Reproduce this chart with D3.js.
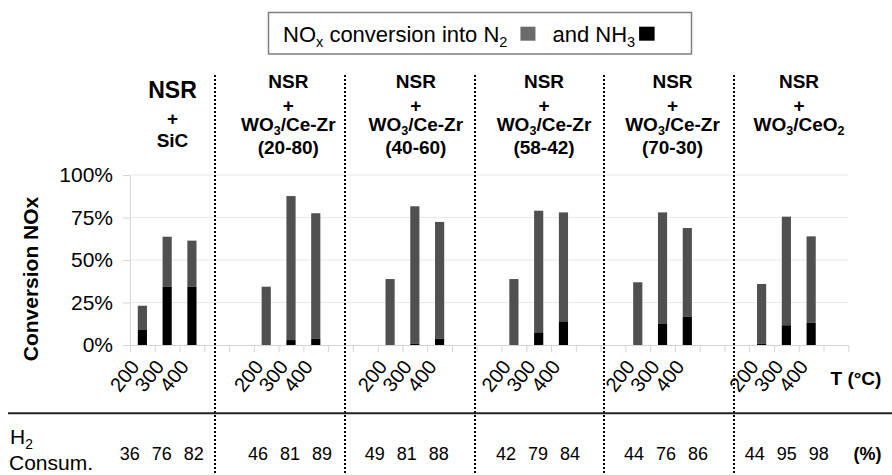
<!DOCTYPE html>
<html>
<head>
<meta charset="utf-8">
<script src="https://cdn.jsdelivr.net/npm/d3@7"></script>
<style>
  body { margin: 0; background: #fff; }
  svg { display: block; font-family: "Liberation Sans", Arial, sans-serif; }
</style>
</head>
<body>
<svg id="chart" width="892" height="475"></svg>
<script>
// ---- Data -----------------------------------------------------------------
// Catalyst configurations (header lines, "_x" marks a subscript character)
const groupHeaders = [
  ["NSR", "+", "SiC"],
  ["NSR", "+", "WO_3/Ce-Zr", "(20-80)"],
  ["NSR", "+", "WO_3/Ce-Zr", "(40-60)"],
  ["NSR", "+", "WO_3/Ce-Zr", "(58-42)"],
  ["NSR", "+", "WO_3/Ce-Zr", "(70-30)"],
  ["NSR", "+", "WO_3/CeO_2"]
];
const temperatures = ["200", "300", "400"];

// NOx converted into NH3 (%), per configuration, at 200 / 300 / 400 °C
const nh3 = [
  [8.8, 34.3, 34.3],
  [0.0, 2.9, 3.7],
  [0.0, 0.8, 3.7],
  [0.0, 7.4, 13.9],
  [0.0, 12.4, 16.7],
  [0.8, 11.6, 13.1]
];
// NOx converted into N2 (%)
const n2 = [
  [14.3, 29.4, 27.1],
  [34.3, 84.7, 73.8],
  [38.8, 80.8, 68.7],
  [38.8, 71.6, 64.1],
  [36.9, 65.6, 52.1],
  [35.1, 63.9, 50.8]
];
// H2 consumption (%)
const h2Consumption = [
  [36, 76, 82],
  [46, 81, 89],
  [49, 81, 88],
  [42, 79, 84],
  [44, 76, 86],
  [44, 95, 98]
];
const yTicks = [0, 25, 50, 75, 100];

// ---- Layout ---------------------------------------------------------------
const svg = d3.select("#chart");
const FONT = "\"Liberation Sans\", Arial, sans-serif";
const plot = { left: 130, right: 848.3, top: 175, bottom: 345 };
const separatorsX = [215, 345, 475, 604, 734];
const headerCenters = [172.5, 288.3, 415.8, 544, 672.5, 799];
const h2Centers = [161.7, 290, 406.7, 538, 666, 786.7];
const GREY = "#505050";

// category slots: 3 temperatures per configuration, two empty slots between
const slots = [];
groupHeaders.forEach((_, g) => {
  temperatures.forEach(t => slots.push(`${g}-${t}`));
  if (g < groupHeaders.length - 1) { slots.push(`${g}-gapA`, `${g}-gapB`); }
  else { slots.push(`${g}-end`); }
});

const x = d3.scaleBand()
  .domain(slots)
  .range([plot.left, plot.right])
  .paddingInner(0.63)
  .paddingOuter(0.315);
const slotEdge = d3.scaleLinear().domain([0, slots.length]).range([plot.left, plot.right]);
const y = d3.scaleLinear().domain([0, 100]).range([plot.bottom, plot.top]);

// helper: write a string with "_c" subscripts into a text element of the given size
function richText(sel, str, size, shiftEm = 0.24) {
  sel.attr("font-size", size);
  const shift = size * shiftEm;
  const parts = str.split(/_(.)/);
  let lowered = false;
  parts.forEach((p, i) => {
    if (!p) return;
    const sub = i % 2 === 1;
    const span = sel.append("tspan").text(p);
    if (sub) {
      span.attr("font-size", size * 0.66).attr("dy", lowered ? 0 : shift);
      lowered = true;
    } else {
      if (lowered) span.attr("dy", -shift);
      lowered = false;
    }
  });
  return sel;
}

// ---- Gridlines ------------------------------------------------------------
svg.append("g")
  .selectAll("line")
  .data(yTicks.filter(d => d > 0))
  .join("line")
  .attr("x1", plot.left).attr("x2", plot.right)
  .attr("y1", d => y(d)).attr("y2", d => y(d))
  .attr("stroke", "#e9e9e9").attr("stroke-width", 1);

// ---- Axes -----------------------------------------------------------------
const yAxis = svg.append("g")
  .attr("transform", `translate(${plot.left},0)`)
  .call(d3.axisLeft(y).tickValues(yTicks).tickFormat(d => d + "%").tickSize(7).tickSizeOuter(0).tickPadding(10));
yAxis.select(".domain").attr("stroke", "#d4d4d4");
yAxis.selectAll(".tick line").attr("stroke", "#d4d4d4");
yAxis.selectAll(".tick text").attr("font-size", 21).attr("font-family", FONT).attr("fill", "#000");

const xAxis = svg.append("g")
  .attr("transform", `translate(0,${plot.bottom})`)
  .call(d3.axisBottom(slotEdge).tickValues(d3.range(slots.length + 1)).tickFormat("").tickSize(7).tickSizeOuter(0));
xAxis.select(".domain").attr("stroke", "#d4d4d4");
xAxis.selectAll(".tick line").attr("stroke", "#d4d4d4");

// ---- Stacked bars -----------------------------------------------------------
const barData = [];
groupHeaders.forEach((_, g) => {
  temperatures.forEach((t, i) => {
    barData.push({ key: `${g}-${t}`, t, nh3: nh3[g][i], n2: n2[g][i] });
  });
});

const bars = svg.append("g");
bars.selectAll("rect.n2")
  .data(barData)
  .join("rect")
  .attr("class", "n2")
  .attr("x", d => x(d.key))
  .attr("width", x.bandwidth())
  .attr("y", d => y(d.nh3 + d.n2))
  .attr("height", d => y(d.nh3) - y(d.nh3 + d.n2))
  .attr("fill", GREY);
bars.selectAll("rect.nh3")
  .data(barData.filter(d => d.nh3 > 0))
  .join("rect")
  .attr("class", "nh3")
  .attr("x", d => x(d.key))
  .attr("width", x.bandwidth())
  .attr("y", d => y(d.nh3))
  .attr("height", d => y(0) - y(d.nh3))
  .attr("fill", "#000");

// temperature labels under each bar
svg.append("g")
  .selectAll("text")
  .data(barData)
  .join("text")
  .attr("transform", d => `translate(${x(d.key) + x.bandwidth() / 2 - 2},367) rotate(-52)`)
  .attr("text-anchor", "end")
  .attr("font-size", 20)
  .attr("font-family", FONT)
  .text(d => d.t);

svg.append("text")
  .attr("x", 856).attr("y", 385)
  .attr("text-anchor", "middle")
  .attr("font-size", 19).attr("font-weight", "bold")
  .attr("font-family", FONT)
  .text("T (°C)");

// y-axis title
svg.append("text")
  .attr("transform", "translate(38,279) rotate(-90)")
  .attr("text-anchor", "middle")
  .attr("font-size", 21).attr("font-weight", "bold")
  .attr("font-family", FONT)
  .text("Conversion NOx");

// ---- Group headers ----------------------------------------------------------
groupHeaders.forEach((lines, g) => {
  const first = g === 0;
  const baselines = first ? [98, 125, 147] : [88, 111.5, 131, 154];
  lines.forEach((line, i) => {
    const t = svg.append("text")
      .attr("x", headerCenters[g]).attr("y", baselines[i])
      .attr("text-anchor", "middle")
      .attr("font-weight", "bold")
      .attr("font-family", FONT);
    richText(t, line, first && i === 0 ? 23 : 19, 0.2);
  });
});

// ---- Separators -------------------------------------------------------------
svg.append("g")
  .selectAll("line")
  .data(separatorsX)
  .join("line")
  .attr("x1", d => d).attr("x2", d => d)
  .attr("y1", 75).attr("y2", 475)
  .attr("stroke", "#000").attr("stroke-width", 2).attr("stroke-dasharray", "2,2");

// ---- H2 consumption row -----------------------------------------------------
svg.append("line")
  .attr("x1", 8).attr("x2", 892).attr("y1", 413.3).attr("y2", 413.3)
  .attr("stroke", "#222").attr("stroke-width", 2);

richText(svg.append("text").attr("x", 10).attr("y", 444)
  .attr("font-family", FONT), "H_2", 21);
svg.append("text").attr("x", 9).attr("y", 470)
  .attr("font-size", 21).attr("font-family", FONT).text("Consum.");

h2Consumption.forEach((vals, g) => {
  svg.append("g").selectAll("text")
    .data(vals)
    .join("text")
    .attr("x", (d, i) => h2Centers[g] + (i - 1) * 32)
    .attr("y", 460)
    .attr("text-anchor", "middle")
    .attr("font-size", 18).attr("font-family", FONT)
    .text(d => d);
});
svg.append("text").attr("x", 867.5).attr("y", 460)
  .attr("text-anchor", "middle")
  .attr("font-size", 18).attr("font-weight", "bold").attr("font-family", FONT)
  .text("(%)");

// ---- Legend -----------------------------------------------------------------
const legend = svg.append("g");
legend.append("rect")
  .attr("x", 268.5).attr("y", 12.5).attr("width", 423).attr("height", 41.5)
  .attr("fill", "#fff").attr("stroke", "#7f7f7f").attr("stroke-width", 1.5);
const lt1 = richText(legend.append("text").attr("x", 283).attr("y", 41.7)
  .attr("font-family", FONT), "NO_x conversion into N_2", 22);
const b1 = lt1.node().getBBox();
const sq1x = b1.x + b1.width + 13;
legend.append("rect").attr("x", sq1x).attr("y", 26.7).attr("width", 15).attr("height", 14).attr("fill", "#6b6b6b");
const lt2 = richText(legend.append("text").attr("x", sq1x + 15 + 17).attr("y", 41.7)
  .attr("font-family", FONT), "and NH_3", 22);
const b2 = lt2.node().getBBox();
legend.append("rect").attr("x", b2.x + b2.width + 4).attr("y", 26.7).attr("width", 15.5).attr("height", 14).attr("fill", "#000");
</script>
</body>
</html>
